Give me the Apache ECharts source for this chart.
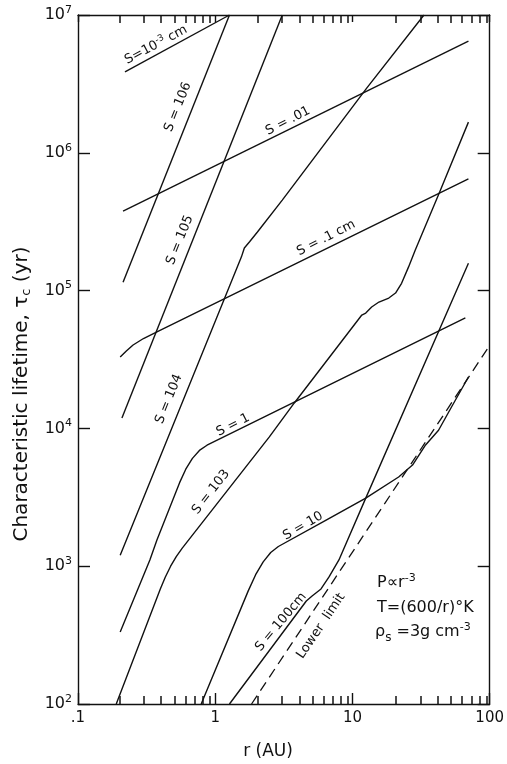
<!DOCTYPE html>
<html>
<head>
<meta charset="utf-8">
<script src="https://cdn.jsdelivr.net/npm/echarts@6/dist/echarts.min.js"></script>
<style>
html,body{margin:0;padding:0;background:#fff;}
#chart{width:507px;height:764px;}
</style>
</head>
<body>
<div id="chart"></div>
<script>
// ---- data (r in AU, tau in yr) ----
const xTickValues = [0.1, 1, 10, 100];
const xTickLabels = ['.1', '1', '10', '100'];
const xMinorTicks = [0.2, 0.3, 0.4, 0.5, 0.6, 0.7, 0.8, 0.9, 2, 3, 4, 5, 6, 7, 8, 9, 20, 30, 40, 50, 60, 70, 80, 90];
const yTickExponents = [2, 3, 4, 5, 6, 7];

const sizeNames = ['S=10^-3 cm', 'S=10^6', 'S=10^5', 'S=10^4', 'S=10^3', 'S=1', 'S=.01', 'S=.1 cm', 'S=10', 'S=100cm', 'Lower limit'];

const s_em3 = [[0.22, 3.86e6], [1.27, 1e7]];
const s_e6 = [[0.213, 1.15e5], [1.27, 1e7]];
const s_e5 = [[0.209, 1.19e4], [3.08, 1e7]];
const s_e4 = [[0.203, 1.2e3], [1.55, 1.75e5], [1.63, 2.04e5], [1.78, 2.26e5], [2.03, 2.66e5], [3.08, 4.54e5], [12.7, 2.95e6], [33.2, 1e7]];
const s_e3 = [[0.19, 100], [0.398, 684], [0.433, 835], [0.473, 1000], [0.52, 1175], [0.575, 1352], [2.48, 8670], [3.77, 1.53e4], [11.7, 6.65e4], [12.5, 6.87e4], [13.8, 7.6e4], [15.6, 8.26e4], [18.4, 8.83e4], [20.6, 9.6e4], [22.8, 1.13e5], [25.6, 1.48e5], [28.7, 1.97e5], [43.2, 5.2e5], [70, 1.67e6]];
const s_1 = [[0.203, 333], [0.334, 1110], [0.376, 1550], [0.55, 4040], [0.61, 5060], [0.682, 6060], [0.767, 6920], [0.871, 7550], [66.5, 6.33e4]];
const s_01 = [[0.213, 3.78e5], [70, 6.47e6]];
const s_1cm = [[0.203, 3.3e4], [0.225, 3.65e4], [0.252, 4.03e4], [0.3, 4.49e4], [0.376, 5.01e4], [70, 6.46e5]];
const s_10 = [[0.79, 100], [1.74, 662], [1.97, 868], [2.236, 1076], [2.537, 1258], [2.884, 1390], [6.43, 2160], [12.5, 3120], [21.7, 4440], [27.4, 5420], [34.1, 7580], [42.4, 9700], [52.7, 1.43e4], [70, 2.36e4]];
const s_100 = [[1.27, 100], [4.61, 559], [5.08, 608], [5.9, 684], [6.75, 836], [7.97, 1110], [12.5, 3120], [70, 1.58e5]];
const lowerLimit = [[1.84, 100], [100, 4.0e4]];

// ---- chart ----
const FONT = 'DejaVu Sans';
const INK = '#111';
const xMin = 0.1, xMax = 100, yMin = 100, yMax = 1e7;
const W = 507, H = 764;
const grid = {left: 78, right: 14, top: 15, bottom: 60};
const chart = echarts.init(document.getElementById('chart'), null, {renderer: 'canvas'});
const lineStyle = {color: INK, width: 1.4};
function curve(name, data) {
  return {name, type: 'line', data, showSymbol: false, symbol: 'none', lineStyle, silent: true, animation: false};
}
const allData = [s_em3, s_e6, s_e5, s_e4, s_e3, s_1, s_01, s_1cm, s_10, s_100];
const series = allData.map((d, i) => curve(sizeNames[i], d));
series.push({name: sizeNames[10], type: 'line', data: lowerLimit, showSymbol: false, symbol: 'none', silent: true, animation: false,
  lineStyle: {color: INK, width: 1.3, type: [10, 6]}});

const xLabelMap = {};
xTickValues.forEach((v, i) => { xLabelMap[v] = xTickLabels[i]; });

const axisLine = {show: true, lineStyle: {color: INK, width: 1.4}};

const option = {
  backgroundColor: '#fff',
  animation: false,
  grid,
  xAxis: [{
    type: 'log', logBase: 10, min: xMin, max: xMax, position: 'bottom',
    axisLine, splitLine: {show: false},
    axisTick: {show: true, inside: true, length: 11, lineStyle: {color: INK, width: 1.4}},
    axisLabel: {margin: 7, color: INK, fontFamily: FONT, fontSize: 15,
      formatter: v => (xLabelMap[v] !== undefined ? xLabelMap[v] : '')}
  }, {
    type: 'log', logBase: 10, min: xMin, max: xMax, position: 'top',
    axisLine, splitLine: {show: false},
    axisTick: {show: true, inside: true, length: 7, lineStyle: {color: INK, width: 1.4}},
    axisLabel: {show: false}
  }],
  yAxis: [{
    type: 'log', logBase: 10, min: yMin, max: yMax, position: 'left',
    axisLine, splitLine: {show: false},
    axisTick: {show: true, inside: true, length: 12, lineStyle: {color: INK, width: 1.4}},
    axisLabel: {margin: 6, color: INK, fontFamily: FONT,
      formatter: v => {
        const e = Math.round(Math.log10(v));
        return yTickExponents.indexOf(e) >= 0 ? '{b|10}{s|' + e + '}' : '';
      },
      rich: {b: {fontSize: 16, fontFamily: FONT, color: INK}, s: {fontSize: 11, fontFamily: FONT, color: INK, padding: [0, 0, 10, 0]}}
    }
  }, {
    type: 'log', logBase: 10, min: yMin, max: yMax, position: 'right',
    axisLine, splitLine: {show: false},
    axisTick: {show: true, inside: true, length: 12, lineStyle: {color: INK, width: 1.4}},
    axisLabel: {show: false}
  }],
  series
};
chart.setOption(option);

// x-axis minor ticks (inside, bottom and top), placed on the log scale of the grid
const plotW = W - grid.left - grid.right;
const bottomY = H - grid.bottom, topY = grid.top;
function xPix(v) {
  return grid.left + (Math.log10(v) - Math.log10(xMin)) / (Math.log10(xMax) - Math.log10(xMin)) * plotW;
}
const tickGraphics = [];
xMinorTicks.forEach(v => {
  const px = Math.round(xPix(v));
  tickGraphics.push({type: 'rect', silent: true, z: 50, shape: {x: px - 0.75, y: bottomY - 8, width: 1.5, height: 8}, style: {fill: INK}});
  tickGraphics.push({type: 'rect', silent: true, z: 50, shape: {x: px - 0.75, y: topY, width: 1.5, height: 8}, style: {fill: INK}});
});

// labels along curves
function lab(text, x, y, deg, size, rich) {
  return {type: 'text', x, y, rotation: deg * Math.PI / 180, silent: true,
    style: {text, fill: INK, font: (size || 13) + 'px "' + FONT + '"', align: 'center', verticalAlign: 'middle', rich: rich}};
}
const supRich = {
  n: {fontSize: 13, fontFamily: FONT, fill: INK, color: INK},
  p: {fontSize: 9, fontFamily: FONT, fill: INK, color: INK, padding: [0, 0, 7, 0]}
};
const noteRich = {
  n: {fontSize: 16, fontFamily: FONT, fill: INK, color: INK},
  p: {fontSize: 11, fontFamily: FONT, fill: INK, color: INK, padding: [0, 0, 9, 0]},
  b: {fontSize: 12, fontFamily: FONT, fill: INK, color: INK, padding: [12, 0, 0, 0]}
};
const graphics = tickGraphics.concat([
  lab('{n|S=10}{p|-3}{n| cm}', 156, 45, 28, 13, supRich),
  lab('S = 106', 178, 107, 68),
  lab('S = 105', 180, 240, 68),
  lab('S = 104', 169, 399, 68),
  lab('S = 1', 233, 425, 27),
  lab('S = 103', 211, 492, 52),
  lab('S = .01', 288, 121, 27),
  lab('S = .1 cm', 326, 238, 27),
  lab('S = 10', 303, 526, 30),
  lab('S = 100cm', 281, 622, 50),
  lab('Lower  limit', 321, 626, 56),
  {type: 'text', x: 377, y: 583, silent: true, style: {text: '{n|P∝r}{p|-3}', align: 'left', verticalAlign: 'middle', rich: noteRich}},
  {type: 'text', x: 377, y: 608, silent: true, style: {text: 'T=(600/r)°K', fill: INK, font: '16px "' + FONT + '"', align: 'left', verticalAlign: 'middle'}},
  {type: 'text', x: 375, y: 632, silent: true, style: {text: '{n|ρ}{b|s}{n| =3g cm}{p|-3}', align: 'left', verticalAlign: 'middle', rich: noteRich}},
  {type: 'text', x: 268, y: 752, silent: true, style: {text: 'r (AU)', fill: INK, font: '17px "' + FONT + '"', align: 'center', verticalAlign: 'middle'}},
  {type: 'text', x: 22, y: 394, rotation: Math.PI / 2, silent: true, style: {text: '{n|Characteristic lifetime, τ}{b|c}{n| (yr)}', align: 'center', verticalAlign: 'middle',
    rich: {n: {fontSize: 20, fontFamily: FONT, fill: INK, color: INK}, b: {fontSize: 13, fontFamily: FONT, fill: INK, color: INK, padding: [9, 0, 0, 0]}}}}
]);
chart.setOption({graphic: graphics});
</script>
</body>
</html>
